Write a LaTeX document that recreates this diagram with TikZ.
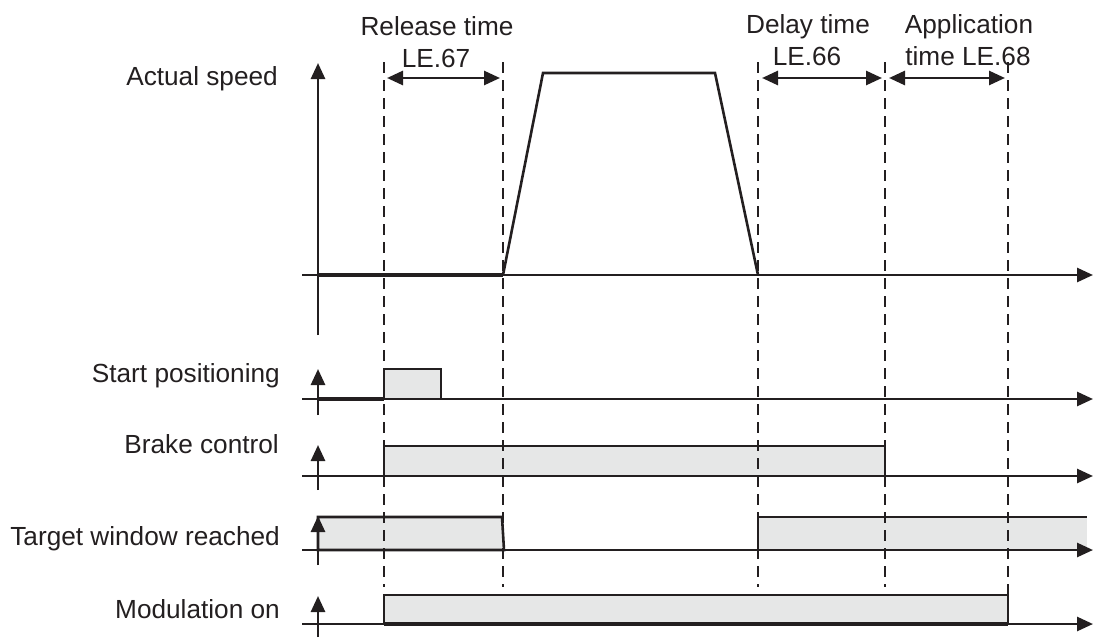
\documentclass[tikz,border=0pt]{standalone}
\usepackage{fontspec}
\setmainfont{Liberation Sans}
\usetikzlibrary{arrows.meta,positioning}
\definecolor{inkblack}{RGB}{35,31,32}
\definecolor{sigfill}{RGB}{230,231,231}
\tikzset{
  axis/.style={
    draw=inkblack,
    line width=2.7pt,
    -{Triangle[length=16pt,width=14pt]}
  },
  guide/.style={draw=inkblack, line width=2.5pt, dash pattern=on 11pt off 7pt},
  span/.style={
    draw=inkblack,
    line width=2.7pt,
    {Triangle[length=16pt,width=14pt]}-{Triangle[length=16pt,width=14pt]}
  },
  pulse/.style={draw=inkblack, line width=2.6pt, fill=sigfill},
  trace/.style={draw=inkblack, line width=2.6pt, line join=miter},
  low/.style={draw=inkblack, line width=4.2pt},
  lbl/.style={text=inkblack, inner sep=0pt, font=\fontsize{26.2}{30}\selectfont}
}

\begin{document}
\begin{tikzpicture}[x=1pt, y=-1pt]
    \useasboundingbox (0,0) rectangle (1094,637);
    % row labels
    \node[lbl, anchor=base east] (speed) at (278,85) {Actual speed};
    \node[lbl, anchor=base east] (start) at (280,382) {Start positioning};
    \node[lbl, anchor=base east] (brake) at (279,453) {Brake control};
    \node[lbl, anchor=base east] (target) at (280,545) {Target window reached};
    \node[lbl, anchor=base east] (modul) at (280,618) {Modulation on};
    % time labels
    \node[lbl, anchor=base] (rel1) at (437,35) {Release time};
    \node[lbl, anchor=base] (rel2) at (436,67) {LE.67};
    \node[lbl, anchor=base] (del1) at (808,33) {Delay time};
    \node[lbl, anchor=base] (del2) at (807,65) {LE.66};
    \node[lbl, anchor=base] (app1) at (969,33) {Application};
    \node[lbl, anchor=base] (app2) at (968,65) {time LE.68};
    % axis end points
    \coordinate (sv0) at (318,335); \coordinate (sv1) at (318,63);
    \coordinate (sh0) at (302,275); \coordinate (sh1) at (1093,275);
    \coordinate (pv0) at (318,415); \coordinate (pv1) at (318,369);
    \coordinate (ph0) at (302,399); \coordinate (ph1) at (1093,399);
    \coordinate (bv0) at (318,490); \coordinate (bv1) at (318,445);
    \coordinate (bh0) at (302,476); \coordinate (bh1) at (1093,476);
    \coordinate (tv0) at (318,565); \coordinate (tv1) at (318,516);
    \coordinate (th0) at (302,550); \coordinate (th1) at (1093,550);
    \coordinate (mv0) at (318,637); \coordinate (mv1) at (318,596);
    \coordinate (mh0) at (302,624); \coordinate (mh1) at (1093,624);
    % signals
    \draw[low] (318,275) -- (503,275);
    \draw[trace] (503,275) -- (543,73) -- (715,73) -- (758,275);
    \draw[low] (318,399) -- (384,399);
    \draw[pulse] (384,399) rectangle (441,369);
    \draw[pulse] (384,476) rectangle (885,446);
    \draw[pulse] (318,550) -- (318,517) -- (502,517) -- (504,550) -- cycle;
    \fill[sigfill] (758,517) rectangle (1087,550);
    \draw[trace] (758,550) -- (758,517) -- (1087,517);
    \draw[pulse] (384,624) rectangle (1008,595);
    \draw[low] (384,624) -- (1008,624);
    % axes
    \draw[axis] (sv0) -- (sv1);
    \draw[axis] (sh0) -- (sh1);
    \draw[axis] (pv0) -- (pv1);
    \draw[axis] (ph0) -- (ph1);
    \draw[axis] (bv0) -- (bv1);
    \draw[axis] (bh0) -- (bh1);
    \draw[axis] (tv0) -- (tv1);
    \draw[axis] (th0) -- (th1);
    \draw[axis] (mv0) -- (mv1);
    \draw[axis] (mh0) -- (mh1);
    % guide lines
    \coordinate (g1a) at (384,62);  \coordinate (g1b) at (384,587);
    \coordinate (g2a) at (503,62);  \coordinate (g2b) at (503,587);
    \coordinate (g3a) at (758,62);  \coordinate (g3b) at (758,587);
    \coordinate (g4a) at (885,62);  \coordinate (g4b) at (885,587);
    \coordinate (g5a) at (1008,62); \coordinate (g5b) at (1008,595);
    \draw[guide] (g1a) -- (g1b);
    \draw[guide] (g2a) -- (g2b);
    \draw[guide] (g3a) -- (g3b);
    \draw[guide] (g4a) -- (g4b);
    \draw[guide] (g5a) -- (g5b);
    % time spans
    \coordinate (s1a) at (387,78);  \coordinate (s1b) at (500,78);
    \coordinate (s2a) at (762,78);  \coordinate (s2b) at (882,78);
    \coordinate (s3a) at (889,78);  \coordinate (s3b) at (1005,78);
    \draw[span] (s1a) -- (s1b);
    \draw[span] (s2a) -- (s2b);
    \draw[span] (s3a) -- (s3b);
  \end{tikzpicture}
\end{document}
